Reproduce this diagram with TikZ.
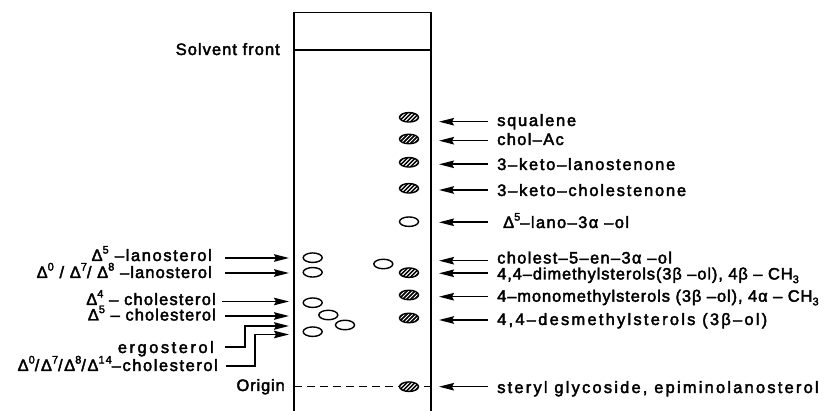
\documentclass[tikz,border=0pt]{standalone}
\usepackage{fontspec}
\setmainfont{Liberation Sans}[FakeBold=2.5]
\usetikzlibrary{arrows.meta,shapes.geometric}
\newcommand{\dsup}[1]{\raisebox{0.45em}{\fontsize{11}{11}\selectfont #1}}
\newcommand{\dsub}[1]{\raisebox{-0.22em}{\fontsize{11}{11}\selectfont #1}}
\tikzset{
  lbl/.style={font=\fontsize{16.5}{18}\selectfont, inner sep=0pt},
  ls/.style={font=\fontsize{16.5}{18}\selectfont\addfontfeature{LetterSpace=#1}},
  arr/.style={line width=1.6pt, -{Stealth[length=15pt,width=7.5pt,inset=2pt]}},
  elbowarr/.style={line width=1.6pt, line join=miter, -{Stealth[length=15pt,width=7.5pt,inset=2pt]}},
  plate/.style={line width=1.6pt, line join=miter},
  spot/.style={ellipse, draw, line width=1.4pt, minimum width=19pt, minimum height=9.5pt, inner sep=0pt},
  hspot/.style={spot, fill=black, path picture={
      \foreach \k in {-8,-4,0,4,8}{
        \draw[white, line width=1pt] ([xshift=\k pt-6pt, yshift=-6pt]path picture bounding box.center) -- ++(12pt,12pt);}}}
}
\begin{document}
\begin{tikzpicture}[x=1pt,y=-1pt]
\useasboundingbox (0,0) rectangle (836,411);
% plate
\coordinate (pTL) at (294,12.5);
\coordinate (pTR) at (431,12.5);
\coordinate (pBL) at (294,411);
\coordinate (pBR) at (431,411);
\draw[plate] (pBL) -- (pTL) -- (pTR) -- (pBR);
\coordinate (sfL) at (294,50);
\coordinate (sfR) at (431,50);
\draw[plate] (sfL) -- (sfR);
\node[lbl, ls=6.3, anchor=base east] (sf) at (280,55) {Solvent front};
% origin
\coordinate (oL) at (294,386.7);
\coordinate (oR) at (431,386.7);
\draw[line width=1.3pt, dash pattern=on 8pt off 5pt] (oL) -- (oR);
\node[lbl, ls=5.2, anchor=base east] (org) at (285,391) {Origin};
% spots left lane
\node[spot] (s1) at (312.7,257.7) {};
\node[spot] (s2) at (312.7,272.3) {};
\node[spot] (s3) at (312.7,302.7) {};
\node[spot] (s4) at (328.3,315) {};
\node[spot] (s5) at (345,325) {};
\node[spot] (s6) at (312.7,331.7) {};
\node[spot] (s7) at (383.3,264) {};
% spots right lane
\node[hspot] (h1) at (409,117.3) {};
\node[hspot] (h2) at (409,139) {};
\node[hspot] (h3) at (409,162.3) {};
\node[hspot] (h4) at (409,188.3) {};
\node[spot]  (h5) at (409,221.7) {};
\node[hspot] (h6) at (409,272.7) {};
\node[hspot] (h7) at (409,295) {};
\node[hspot] (h8) at (409,318) {};
\node[hspot] (h9) at (409,386.7) {};
% left labels
\node[lbl, ls=9.8, anchor=base east] (l1) at (212,261) {Δ\dsup{5} –lanosterol};
\node[lbl, ls=6.7, anchor=base east] (l2) at (212,278) {Δ\dsup{0} / Δ\dsup{7}/ Δ\dsup{8} –lanosterol};
\node[lbl, ls=7.2, anchor=base east] (l3) at (216,305) {Δ\dsup{4} – cholesterol};
\node[lbl, ls=6.4, anchor=base east] (l4) at (216,320.5) {Δ\dsup{5} – cholesterol};
\node[lbl, ls=15.2, anchor=base east] (l5) at (214,353) {ergosterol};
\node[lbl, ls=9.4, anchor=base east] (l6) at (218,371) {Δ\dsup{0}/Δ\dsup{7}/Δ\dsup{8}/Δ\dsup{14}–cholesterol};
\coordinate (l1t) at (225,258);   \coordinate (l1h) at (289,258);
\coordinate (l2t) at (225,273);   \coordinate (l2h) at (289,273);
\coordinate (l3t) at (222,301.5); \coordinate (l3h) at (289,301.5);
\coordinate (l4t) at (225,316);   \coordinate (l4h) at (289,316);
\coordinate (l5t) at (225,347);   \coordinate (l5h) at (289,326);
\coordinate (l6t) at (226,366);   \coordinate (l6h) at (289,334.5);
\draw[arr] (l1t) -- (l1h);
\draw[arr] (l2t) -- (l2h);
\draw[arr] (l3t) -- (l3h);
\draw[arr] (l4t) -- (l4h);
\draw[elbowarr] (l5t) -- (245,347) -- (245,326) -- (l5h);
\draw[elbowarr] (l6t) -- (255,366) -- (255,334.5) -- (l6h);
% right labels
\node[lbl, ls=10.4, anchor=base west] (r1) at (497,126) {squalene};
\node[lbl, ls=8, anchor=base west] (r2) at (497,145) {chol–Ac};
\node[lbl, ls=10.5, anchor=base west] (r3) at (497,170) {3–keto–lanostenone};
\node[lbl, ls=10.8, anchor=base west] (r4) at (497,196) {3–keto–cholestenone};
\node[lbl, ls=8.4, anchor=base west] (r5) at (503,228) {Δ\dsup{5}–lano–3α –ol};
\node[lbl, ls=7.9, anchor=base west] (r6) at (497,263.5) {cholest–5–en–3α –ol};
\node[lbl, ls=5.3, anchor=base west] (r7) at (497,279.5) {4,4–dimethylsterols(3β –ol), 4β – CH\dsub{3}};
\node[lbl, ls=5.4, anchor=base west] (r8) at (497,301.7) {4–monomethylsterols (3β –ol), 4α – CH\dsub{3}};
\node[lbl, ls=13.5, anchor=base west] (r9) at (497,325) {4,4–desmethylsterols (3β–ol)};
\node[lbl, ls=13.3, anchor=base west] (r10) at (497,393) {steryl glycoside, epiminolanosterol};
\foreach \n/\y in {1/121.7,2/140.7,3/164.3,4/190,5/222.3,6/260.7,7/273.3,8/296.7,9/320,10/386.7}{
  \coordinate (r\n t) at (488,\y);
  \coordinate (r\n h) at (439,\y);
  \draw[arr] (r\n t) -- (r\n h);
}
\end{tikzpicture}
\end{document}
